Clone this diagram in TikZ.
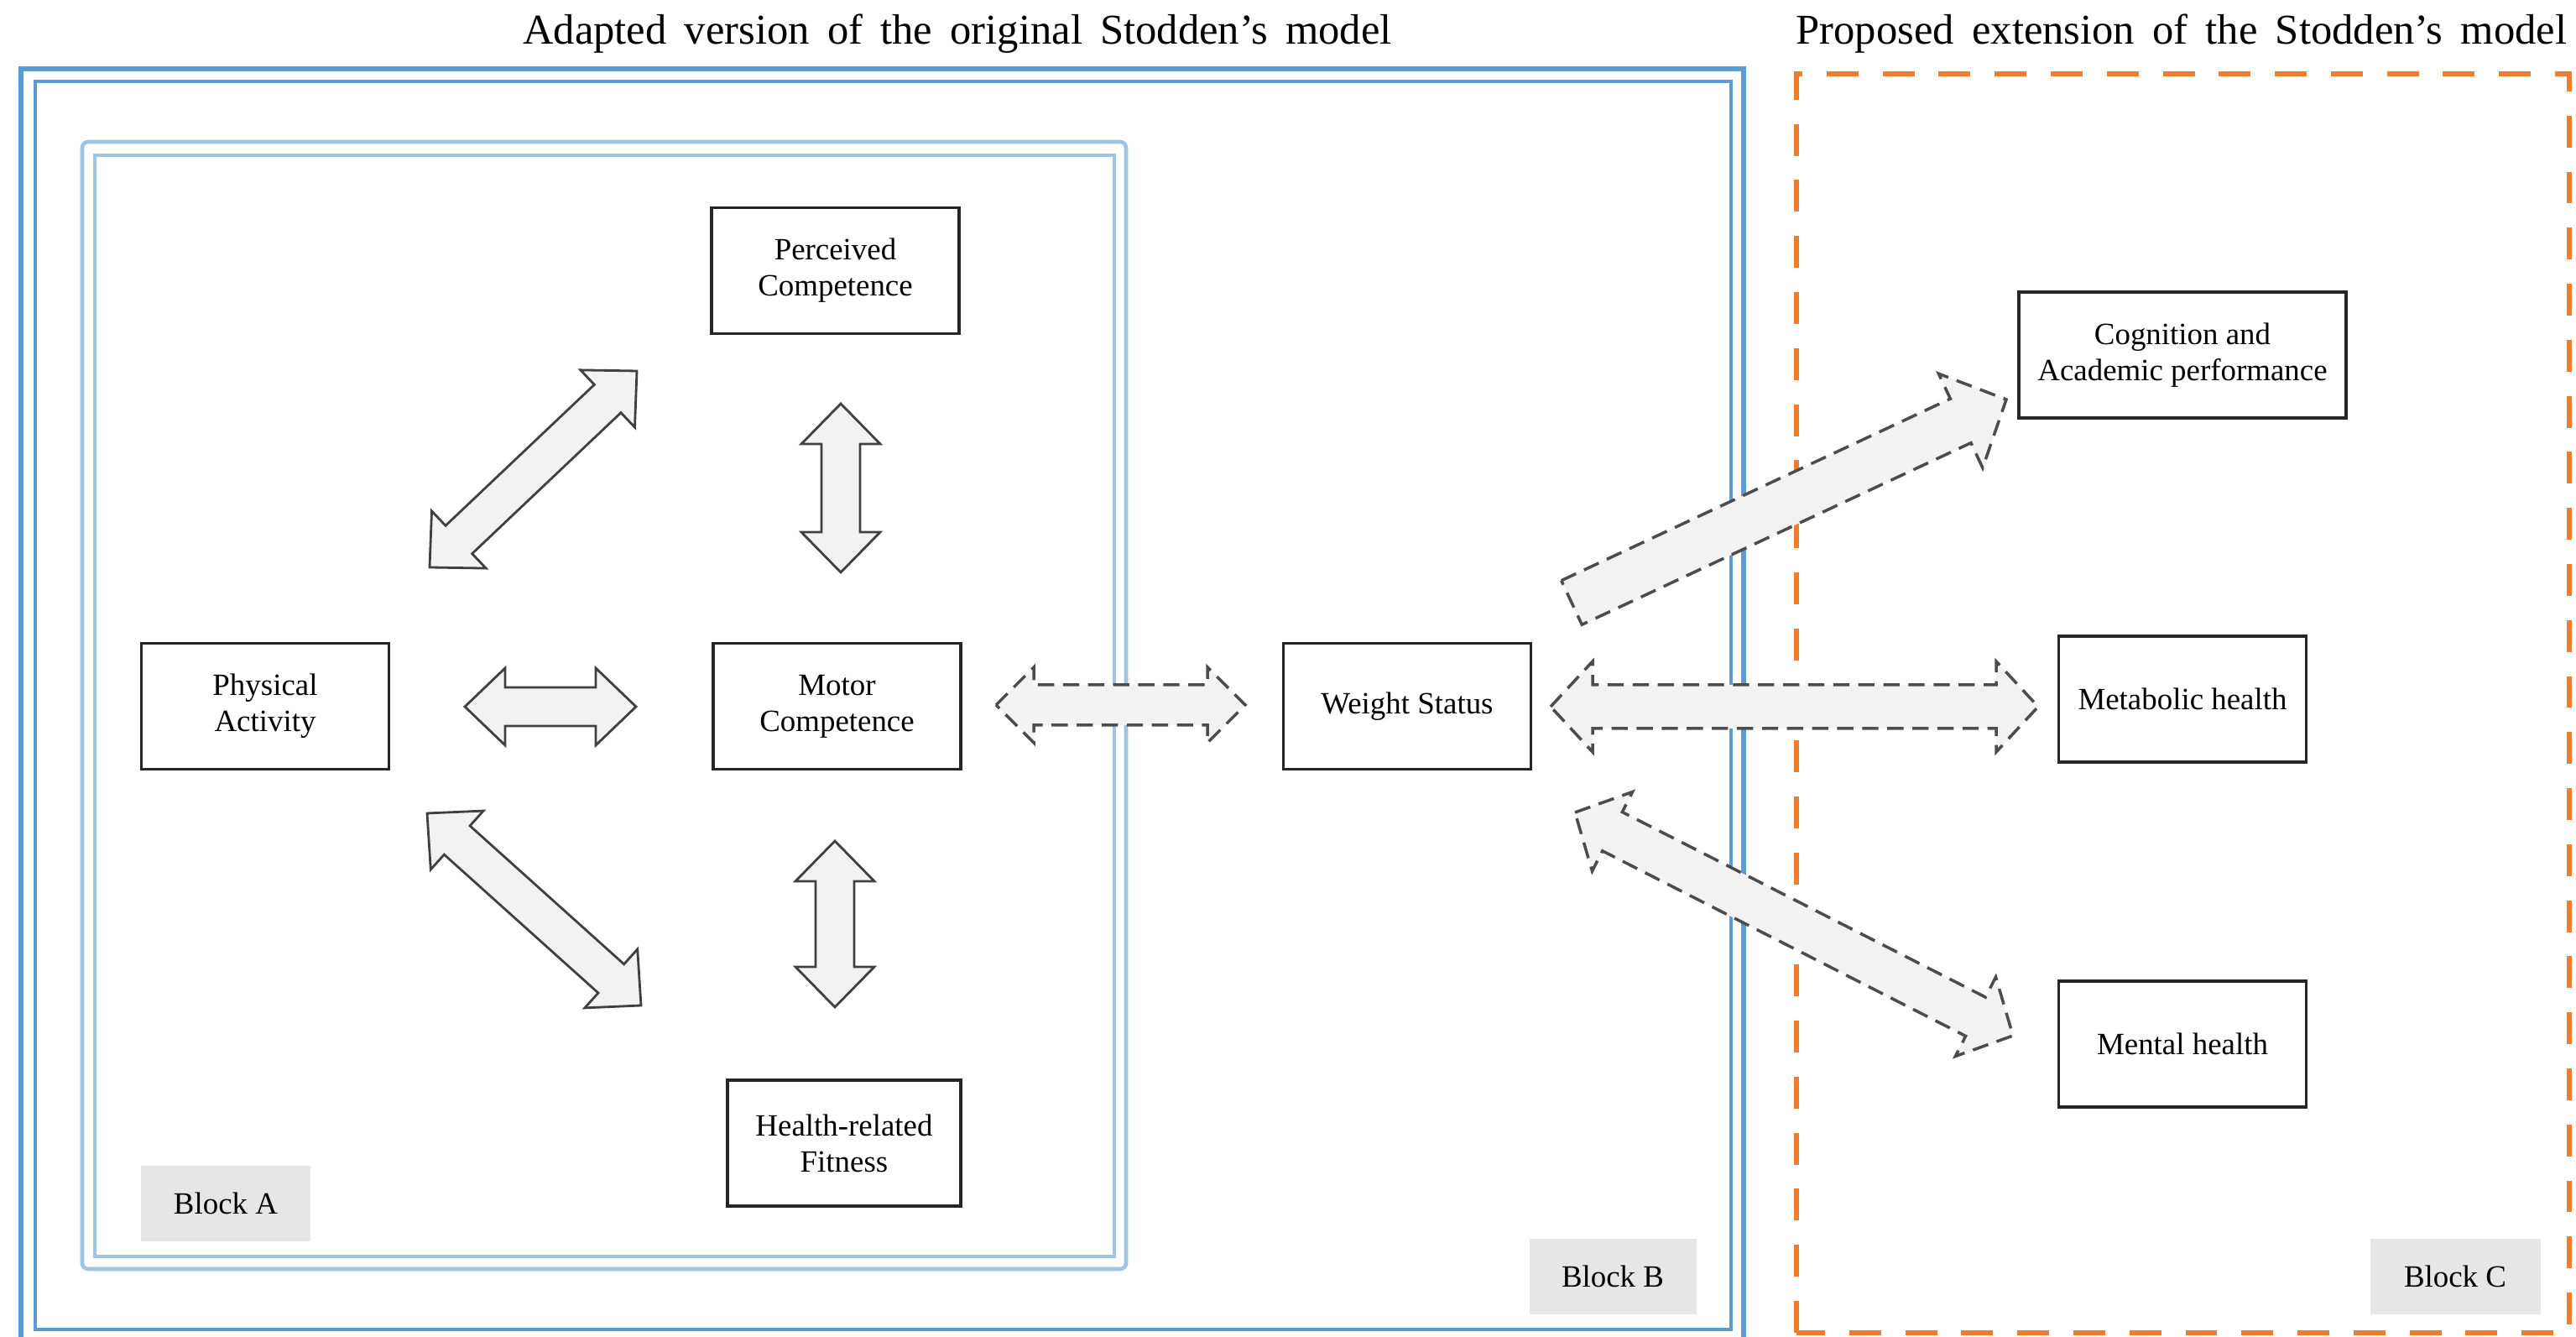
\documentclass[tikz,border=0pt]{standalone}
\usepackage{fontspec}
\setmainfont{Liberation Serif}
\usepackage{tikz}
\usetikzlibrary{calc,positioning}
\definecolor{blueline}{HTML}{5B9BD5}
\definecolor{lightblue}{HTML}{9DC3E6}
\definecolor{orangeline}{HTML}{ED7D31}
\definecolor{arrowfill}{HTML}{F2F2F2}
\definecolor{labelfill}{HTML}{E7E6E6}
\newcommand\boxfont{\fontsize{10.5}{12.2}\selectfont}
\newcommand\titlefont{\fontsize{14.4}{16}\selectfont\spaceskip=0.42em plus 0.1em}
\newcommand\dblarrow[6]{
\coordinate (h1) at ($(#2)!#6!(#3)$);
\coordinate (h2) at ($(#3)!#6!(#2)$);
\draw[#1] (#2) -- ($(h1)!#5!90:(#3)$) -- ($(h1)!#4!90:(#3)$) -- ($(h2)!#4!-90:(#2)$) -- ($(h2)!#5!-90:(#2)$) -- (#3) -- ($(h2)!#5!90:(#2)$) -- ($(h2)!#4!90:(#2)$) -- ($(h1)!#4!-90:(#3)$) -- ($(h1)!#5!-90:(#3)$) -- cycle;}
\newcommand\sglarrow[6]{
\coordinate (h2) at ($(#3)!#6!(#2)$);
\draw[#1] ($(#2)!#4!90:(#3)$) -- ($(h2)!#4!-90:(#2)$) -- ($(h2)!#5!-90:(#2)$) -- (#3) -- ($(h2)!#5!90:(#2)$) -- ($(h2)!#4!90:(#2)$) -- ($(#2)!#4!-90:(#3)$) -- cycle;}
\tikzset{
box/.style={draw=black!85, line width=1pt, fill=white, minimum width=2.95cm, minimum height=1.5cm, align=center, font=\boxfont},
blocklabel/.style={fill=labelfill, minimum width=2cm, minimum height=0.9cm, font=\boxfont},
solidarrow/.style={draw=black!75, line width=0.8pt, fill=arrowfill},
dasharrow/.style={draw=black!70, line width=1pt, fill=arrowfill, dash pattern=on 5.5pt off 3pt},
headline/.style={font=\titlefont}
}
\begin{document}
\begin{tikzpicture}
\useasboundingbox (0,0) rectangle (30.7,15.93);
\draw[blueline, line width=1.6pt] (0.25,-0.06) rectangle (20.78,15.11);
\draw[blueline, line width=1.4pt] (0.42,0.09) rectangle (20.63,14.96);
\draw[lightblue, line width=1.3pt, rounded corners=2pt] (0.98,0.81) rectangle (13.42,14.24);
\draw[lightblue, line width=1.3pt] (1.13,0.96) rectangle (13.28,14.08);
\draw[orangeline, line width=1.6pt, dash pattern=on 10.8pt off 8.2pt] (21.41,0.05) rectangle (30.62,15.05);
\node[headline] (title1) at (11.41,15.53) {Adapted version of the original Stodden’s model};
\node[headline] (title2) at (26.0,15.53) {Proposed extension of the Stodden’s model};
\node[box] (pc) at (9.955,12.705) {Perceived\\Competence};
\node[box] (pa) at (3.16,7.515) {Physical\\Activity};
\node[box] (mc) at (9.975,7.515) {Motor\\Competence};
\node[box, minimum width=2.78cm] (hrf) at (10.06,2.31) {Health-related\\Fitness};
\node[box] (ws) at (16.77,7.515) {Weight Status};
\node[box, minimum width=3.9cm] (cog) at (26.01,11.70) {Cognition and\\Academic performance};
\node[box] (meta) at (26.01,7.60) {Metabolic health};
\node[box] (mental) at (26.01,3.49) {Mental health};
\node[blocklabel, minimum width=2.02cm] (blocka) at (2.69,1.59) {Block A};
\node[blocklabel, minimum width=1.99cm] (blockb) at (19.22,0.72) {Block B};
\node[blocklabel, minimum width=2.03cm] (blockc) at (29.26,0.72) {Block C};
\coordinate (papc1) at (5.12,9.17);
\coordinate (papc2) at (7.59,11.51);
\coordinate (pcmc1) at (10.02,11.12);
\coordinate (pcmc2) at (10.02,9.11);
\coordinate (pamc1) at (5.54,7.51);
\coordinate (pamc2) at (7.58,7.51);
\coordinate (pahrf1) at (5.09,6.24);
\coordinate (pahrf2) at (7.64,3.95);
\coordinate (mchrf1) at (9.95,5.91);
\coordinate (mchrf2) at (9.95,3.93);
\coordinate (mcws1) at (11.87,7.53);
\coordinate (mcws2) at (14.84,7.53);
\coordinate (wsmeta1) at (18.48,7.51);
\coordinate (wsmeta2) at (24.29,7.51);
\coordinate (wsmental1) at (18.77,6.25);
\coordinate (wsmental2) at (23.99,3.59);
\coordinate (wscog1) at (18.73,8.75);
\coordinate (wscog2) at (23.91,11.17);
\dblarrow{solidarrow}{papc1}{papc2}{0.23cm}{0.47cm}{0.48cm}
\dblarrow{solidarrow}{pcmc1}{pcmc2}{0.23cm}{0.47cm}{0.48cm}
\dblarrow{solidarrow}{pamc1}{pamc2}{0.23cm}{0.46cm}{0.48cm}
\dblarrow{solidarrow}{pahrf1}{pahrf2}{0.23cm}{0.47cm}{0.48cm}
\dblarrow{solidarrow}{mchrf1}{mchrf2}{0.23cm}{0.47cm}{0.48cm}
\dblarrow{dasharrow}{mcws1}{mcws2}{0.24cm}{0.45cm}{0.45cm}
\dblarrow{dasharrow}{wsmeta1}{wsmeta2}{0.26cm}{0.54cm}{0.5cm}
\dblarrow{dasharrow}{wsmental1}{wsmental2}{0.26cm}{0.53cm}{0.5cm}
\sglarrow{dasharrow}{wscog1}{wscog2}{0.29cm}{0.62cm}{0.6cm}
\end{tikzpicture}
\end{document}
